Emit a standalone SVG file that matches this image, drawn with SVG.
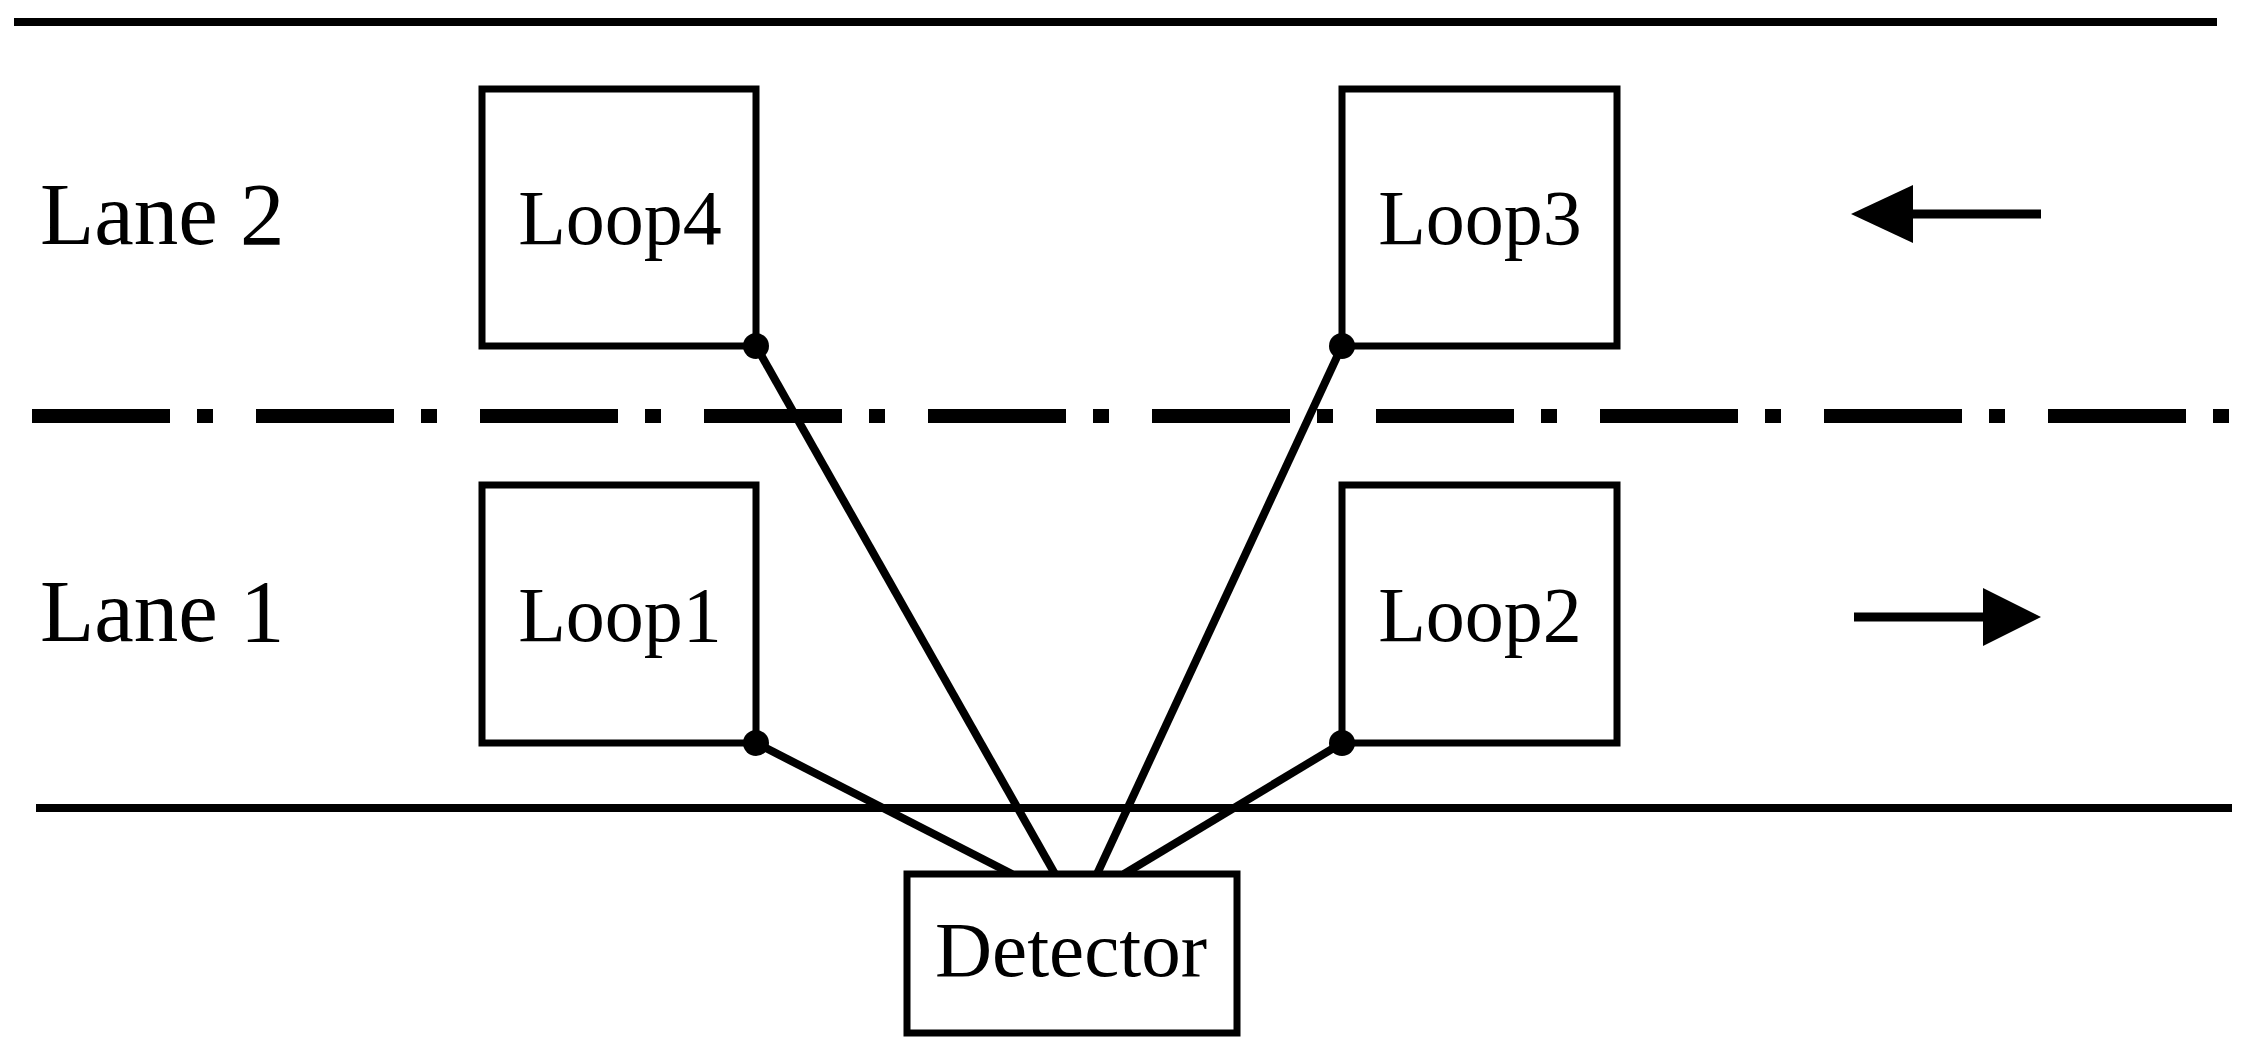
<svg xmlns="http://www.w3.org/2000/svg" width="2250" height="1055" viewBox="0 0 2250 1055">
<style>
.box{fill:#fff;stroke:#000;stroke-width:7}
.t{font-family:"Liberation Serif",serif;fill:#000}
.w{stroke:#000;stroke-width:8;fill:none}
</style>
<rect width="2250" height="1055" fill="#fff"/>
<g id="road">
<line x1="14" y1="22" x2="2217" y2="22" stroke="#000" stroke-width="8"/>
<line x1="36" y1="808" x2="2232" y2="808" stroke="#000" stroke-width="8"/>
<line x1="32" y1="416" x2="2250" y2="416" stroke="#000" stroke-width="14" stroke-dasharray="138 27 16 43"/>
<text class="t" x="40" y="244" font-size="89">Lane 2</text>
<text class="t" x="40" y="641" font-size="89">Lane 1</text>
<line x1="2041" y1="214" x2="1905" y2="214" stroke="#000" stroke-width="9"/>
<polygon points="1851,214 1913,185 1913,243"/>
<line x1="1854" y1="617" x2="1990" y2="617" stroke="#000" stroke-width="9"/>
<polygon points="2041,617 1983,588 1983,646"/>
</g>
<g id="connectors">
<line class="w" x1="756" y1="346" x2="1055" y2="874"/>
<line class="w" x1="756" y1="743" x2="1012" y2="874"/>
<line class="w" x1="1342" y1="346" x2="1097" y2="874"/>
<line class="w" x1="1342" y1="743" x2="1124" y2="874"/>
</g>
<g id="loop4"><rect class="box" x="482" y="89" width="274" height="257"/><text class="t" x="620" y="244" font-size="78" text-anchor="middle">Loop4</text></g>
<g id="loop3"><rect class="box" x="1342" y="89" width="275" height="257"/><text class="t" x="1480" y="244" font-size="78" text-anchor="middle">Loop3</text></g>
<g id="loop1"><rect class="box" x="482" y="485" width="274" height="258"/><text class="t" x="620" y="641" font-size="78" text-anchor="middle">Loop1</text></g>
<g id="loop2"><rect class="box" x="1342" y="485" width="275" height="258"/><text class="t" x="1480" y="641" font-size="78" text-anchor="middle">Loop2</text></g>
<g id="dots">
<circle cx="756" cy="346" r="13"/><circle cx="1342" cy="346" r="13"/>
<circle cx="756" cy="743" r="13"/><circle cx="1342" cy="743" r="13"/>
</g>
<g id="detector"><rect class="box" x="907" y="874" width="330" height="159"/><text class="t" x="1071" y="976" font-size="79" text-anchor="middle">Detector</text></g>
</svg>
